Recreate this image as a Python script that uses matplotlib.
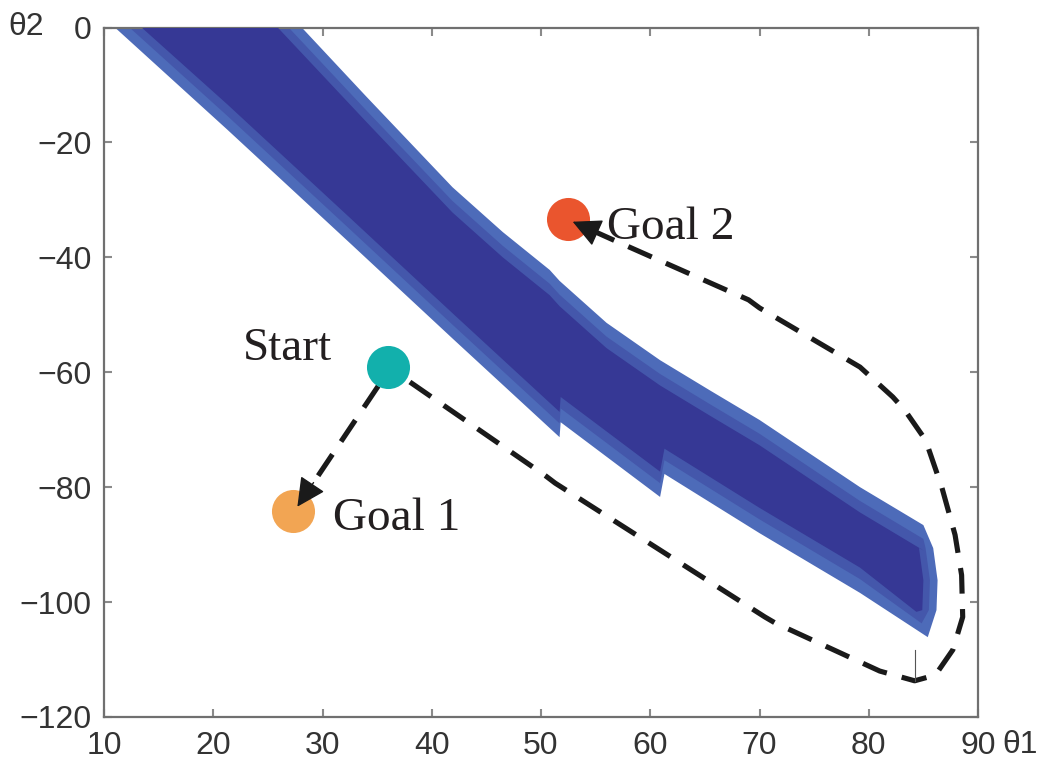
import matplotlib
matplotlib.use("Agg")
import matplotlib.pyplot as plt
import numpy as np

# ---- data ----
# feasible region boundaries (theta1, theta2)
upper_x = [28.1, 34.0, 39.8, 41.9, 46.5, 50.8, 51.7, 56.0, 60.9, 65.5, 70.0, 79.2, 85.0]
upper_y = [0.0, -12.0, -23.6, -27.8, -35.6, -42.2, -44.1, -51.4, -57.9, -63.2, -68.3, -80.0, -86.6]
cap_x = [85.9, 86.3, 86.2]
cap_y = [-90.6, -96.2, -101.4]
lower_x = [85.4, 79.2, 70.0, 61.3, 60.9, 51.8, 51.7, 42.0, 32.5, 21.3, 11.0]
lower_y = [-106.1, -98.4, -88.0, -77.7, -81.7, -68.7, -71.3, -54.3, -37.5, -17.8, 0.0]

# points
start = (36.0, -59.0)
goal1 = (27.3, -84.2)
goal2 = (52.5, -33.3)

# dashed paths
path1_x = [35.1, 27.7]
path1_y = [-62.4, -83.4]
path2_x = [38.0, 50.4, 51.3, 70.5, 71.4, 81.0, 84.2, 86.1, 87.7, 88.6, 88.5,
           87.9, 86.7, 85.2, 83.3, 82.2, 79.2, 70.0, 69.0, 57.0, 52.9]
path2_y = [-61.7, -78.0, -79.3, -102.6, -103.6, -112.0, -113.7, -112.7, -108.3,
           -102.6, -95.3, -88.3, -80.1, -71.8, -66.6, -64.3, -59.1, -48.8, -47.4,
           -37.3, -33.8]

xticks = [10, 20, 30, 40, 50, 60, 70, 80, 90]
yticks = [0, -20, -40, -60, -80, -100, -120]

# ---- figure ----
fig = plt.figure(figsize=(10.5, 7.63), dpi=100)
ax = fig.add_axes([104/1050, 1-717/763, (978-104)/1050, (717-27.5)/763])
ax.set_xlim(10, 90)
ax.set_ylim(-120, 0)

light = "#4d6bb9"
mid = "#4457ab"
dark = "#363895"


def inner(off, capshift):
    ux = [upper_x[0] - off / 2.0] + upper_x[1:]
    uy = [upper_y[0]] + [y - off for y in upper_y[1:]]
    cx = [x - capshift for x in cap_x]
    lx = [lower_x[0] - capshift * 0.8] + lower_x[1:-1] + [lower_x[-1] + off / 1.8]
    ly = [lower_y[0] + off] + [y + off for y in lower_y[1:-1]] + [lower_y[-1]]
    return ux + cx + lx, uy + cap_y + ly


# outer region (light edge), transition, dark core
ax.fill(upper_x + cap_x + lower_x, upper_y + cap_y + lower_y, color=light, lw=0, zorder=1)
mx, my = inner(2.4, 0.7)
ax.fill(mx, my, color=mid, lw=0, zorder=2)
ix, iy = inner(4.4, 1.3)
ax.fill(ix, iy, color=dark, lw=0, zorder=3)

# dashed paths
dash = (0, (5.0, 3.0))
ink = "#1a1a1a"
ax.plot(path1_x, path1_y, color=ink, lw=3.7, linestyle=dash,
        dash_capstyle="butt", zorder=4)
ax.plot(path2_x, path2_y, color=ink, lw=3.7, linestyle=dash,
        dash_capstyle="butt", solid_joinstyle="round", zorder=4)
# small artefact line near the bottom turn
ax.plot([path2_x[6], path2_x[6]], [-108.4, -113.7], color="#555555", lw=0.8, zorder=4)


def head(px, py):
    tip = (px[-1], py[-1])
    frac = 0.2
    base = (px[-1] + (px[-2] - px[-1]) * frac, py[-1] + (py[-2] - py[-1]) * frac)
    ax.annotate("", xy=tip, xytext=base,
                arrowprops=dict(arrowstyle="-|>,head_length=1.0,head_width=0.5",
                                mutation_scale=18, color=ink, lw=1.0,
                                shrinkA=0, shrinkB=0), zorder=6)


# markers
ax.plot(*start, "o", ms=31, color="#12b0ac", mec="none", zorder=5)
ax.plot(*goal1, "o", ms=31, color="#f2a553", mec="none", zorder=5)
ax.plot(*goal2, "o", ms=31, color="#ea552e", mec="none", zorder=5)
head(path1_x, path1_y)
head(path2_x, path2_y)

serif = ["Liberation Serif", "DejaVu Serif"]
tc = "#231f20"
ax.text(22.7, -57.9, "Start", fontsize=34, family=serif, color=tc, ha="left", va="baseline", zorder=7)
ax.text(31.0, -87.4, "Goal 1", fontsize=34, family=serif, color=tc, ha="left", va="baseline", zorder=7)
ax.text(56.0, -36.8, "Goal 2", fontsize=34, family=serif, color=tc, ha="left", va="baseline", zorder=7)

# axes styling
ax.set_xticks(xticks)
ax.set_yticks(yticks)
ax.set_xticklabels([str(t) for t in xticks])
ax.set_yticklabels([str(t).replace("-", "\u2212") for t in yticks])
for s in ax.spines.values():
    s.set_color("#707070")
    s.set_linewidth(1.6)
ax.tick_params(direction="in", top=True, right=True, length=6, width=1.5,
               color="#8a8a8a", labelsize=23, labelcolor="#333333",
               labelfontfamily="Liberation Sans")
ax.tick_params(axis="y", pad=9)
ax.tick_params(axis="x", pad=10)

fig.text(8/1050, 1-27/763, "\u03b82", fontsize=23, family="Liberation Sans",
         color="#333333", ha="left", va="center")
fig.text(1002/1050, 1-745/763, "\u03b81", fontsize=23, family="Liberation Sans",
         color="#333333", ha="left", va="center")

fig.savefig("out.png", dpi=100)
